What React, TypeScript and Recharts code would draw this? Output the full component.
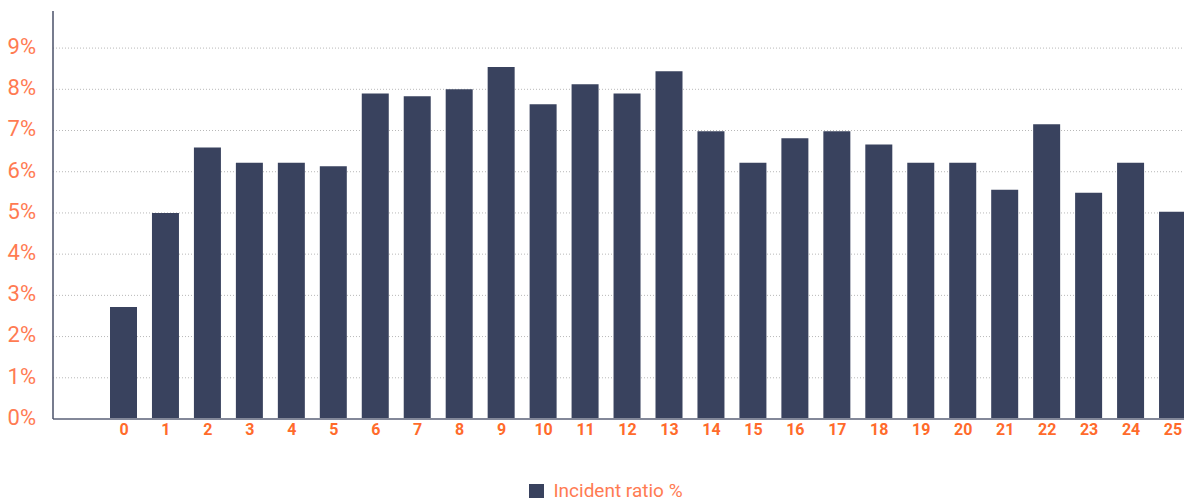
import { Bar, BarChart, CartesianGrid, Legend, XAxis, YAxis } from "recharts";

const HOURS = [
  "0", "1", "2", "3", "4", "5", "6", "7", "8", "9", "10", "11", "12",
  "13", "14", "15", "16", "17", "18", "19", "20", "21", "22", "23", "24", "25",
];
const INCIDENT_RATIO = [
  2.72, 5.0, 6.59, 6.22, 6.22, 6.13, 7.9, 7.83, 8.0, 8.54, 7.64, 8.12, 7.9,
  8.44, 6.98, 6.22, 6.81, 6.98, 6.66, 6.22, 6.22, 5.56, 7.15, 5.49, 6.22, 5.03,
];
const Y_TICKS = [0, 1, 2, 3, 4, 5, 6, 7, 8, 9];
const Y_MAX = 9.9;

const BAR_COLOR = "#39425e";
const LABEL_ORANGE = "#ff7b52";
const TICK_ORANGE = "#ff6b2b";

const data = HOURS.map((hour, i) => ({ hour, ratio: INCIDENT_RATIO[i] }));

// grid only on the labelled ticks, no line at the top of the plot
const gridRows = ({ yAxis, offset }: any) => {
  const scale = yAxis && yAxis.scale;
  if (typeof scale === "function") return Y_TICKS.map((t) => scale(t));
  if (scale && typeof scale.map === "function") return Y_TICKS.map((t) => scale.map(t));
  return Y_TICKS.map((t) => offset.top + offset.height * (1 - t / Y_MAX));
};

function IncidentLegend() {
  return (
    <div style={{ height: 50, display: "flex", justifyContent: "center", paddingTop: 35, boxSizing: "border-box" }}>
      <div style={{ display: "flex", alignItems: "center", gap: 9, height: 14 }}>
        <span style={{ width: 15, height: 14, background: BAR_COLOR, display: "inline-block" }} />
        <span style={{ fontFamily: "Roboto, sans-serif", fontSize: 19, color: LABEL_ORANGE, lineHeight: "14px" }}>
          Incident ratio %
        </span>
      </div>
    </div>
  );
}

export default function App() {
  return (
    <div style={{ position: "fixed", top: 0, left: 0, width: 1184, height: 499, overflow: "hidden", background: "#fff" }}>
      <BarChart
        width={1212}
        height={499}
        data={data}
        margin={{ top: 11, right: 18, left: 0, bottom: 0 }}
        barCategoryGap={0}
      >
        <CartesianGrid
          vertical={false}
          stroke="#b8b8b8"
          strokeDasharray="1 2"
          horizontalCoordinatesGenerator={gridRows}
        />
        <XAxis
          dataKey="hour"
          height={30}
          padding={{ left: 50, right: 0 }}
          tickLine={false}
          tickSize={0}
          tickMargin={5}
          interval={0}
          axisLine={{ stroke: "#838899", strokeWidth: 2 }}
          tick={{ fill: TICK_ORANGE, fontSize: 16, fontWeight: 700, fontFamily: "Roboto, sans-serif" }}
        />
        <YAxis
          width={53}
          domain={[0, Y_MAX]}
          ticks={Y_TICKS}
          tickFormatter={(v) => `${v}%`}
          tickLine={false}
          tickSize={0}
          tickMargin={17}
          axisLine={{ stroke: "#4a5068", strokeWidth: 1.5 }}
          tick={{ fill: LABEL_ORANGE, fontSize: 22, fontFamily: "Roboto, sans-serif", dy: -2 }}
        />
        <Legend
          verticalAlign="bottom"
          content={() => <IncidentLegend />}
          wrapperStyle={{ position: "absolute", left: 0, top: 449, width: 1212, height: 50 }}
        />
        <Bar
          dataKey="ratio"
          name="Incident ratio %"
          fill={BAR_COLOR}
          barSize={27}
          isAnimationActive={false}
        />
      </BarChart>
    </div>
  );
}
